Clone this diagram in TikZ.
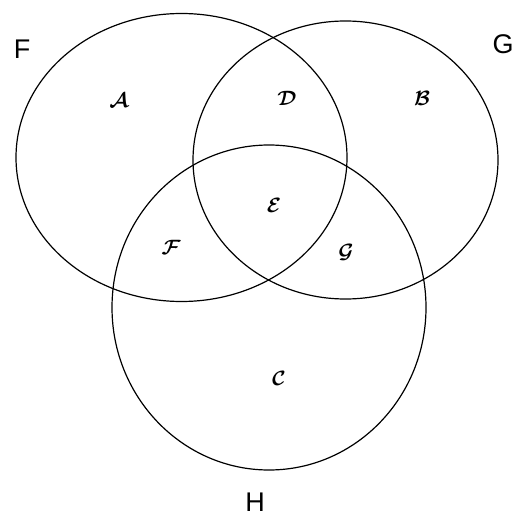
\documentclass[tikz,border=0pt]{standalone}
\usepackage{fontspec}
\usepackage{amsmath}
\setmainfont{Liberation Sans}
\begin{document}
\begin{tikzpicture}[x=1pt,y=-1pt,
  setline/.style={draw=black,line width=1.2pt},
  setname/.style={font=\fontsize{27}{27}\selectfont},
  region/.style={font=\fontsize{22}{22}\selectfont}]
\useasboundingbox (0,0) rectangle (518,521);
\draw[setline] (181.5,157.5) ellipse [x radius=165.5, y radius=144];
\draw[setline] (345.5,160) ellipse [x radius=152.5, y radius=139];
\draw[setline] (269,307.5) ellipse [x radius=157, y radius=162.5];
\node[setname] (lf) at (22,49) {F};
\node[setname] (lg) at (503,44) {G};
\node[setname] (lh) at (255,502) {H};
\node[region] (ra) at (119,100) {$\boldsymbol{\mathcal{A}}$};
\node[region] (rd) at (287,98) {$\boldsymbol{\mathcal{D}}$};
\node[region] (rb) at (422,98) {$\boldsymbol{\mathcal{B}}$};
\node[region] (re) at (274,205) {$\boldsymbol{\mathcal{E}}$};
\node[region] (rf) at (171,247) {$\boldsymbol{\mathcal{F}}$};
\node[region] (rg) at (346,252) {$\boldsymbol{\mathcal{G}}$};
\node[region] (rc) at (279,378) {$\boldsymbol{\mathcal{C}}$};
\end{tikzpicture}
\end{document}
